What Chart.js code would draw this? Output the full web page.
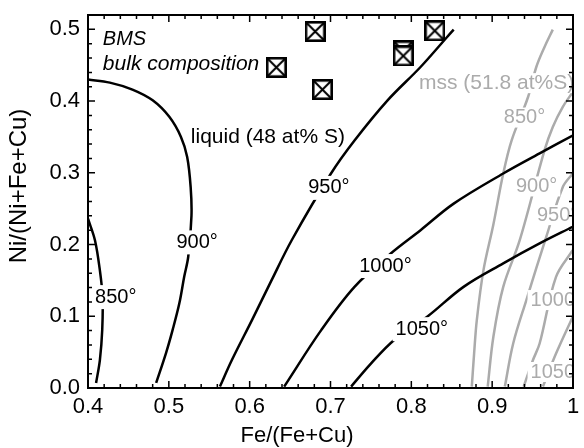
<!DOCTYPE html>
<html>
<head>
<meta charset="utf-8">
<script src="https://cdn.jsdelivr.net/npm/chart.js@4.4.1/dist/chart.umd.min.js"></script>
<style>
  html, body { margin: 0; padding: 0; background: #fff; }
</style>
</head>
<body>
<canvas id="chart" width="584" height="448"></canvas>
<script>
// tick labels
var xTicks = [0.4, 0.5, 0.6, 0.7, 0.8, 0.9, 1.0];
var xTickLabels = ['0.4', '0.5', '0.6', '0.7', '0.8', '0.9', '1'];
var yTicks = [0.0, 0.1, 0.2, 0.3, 0.4, 0.5];
var yTickLabels = ['0.0', '0.1', '0.2', '0.3', '0.4', '0.5'];

// liquid isotherms (48 at% S): [Fe/(Fe+Cu), Ni/(Ni+Fe+Cu)]
var liq850 = [[0.400, 0.236], [0.4086, 0.206], [0.4147, 0.164], [0.418, 0.127], [0.4176, 0.081], [0.4147, 0.039], [0.410, 0.007]];
var liq900 = [[0.400, 0.430], [0.427, 0.4257], [0.455, 0.416], [0.480, 0.401], [0.5006, 0.378], [0.515, 0.350], [0.5227, 0.322],
              [0.527, 0.280], [0.528, 0.240], [0.524, 0.183], [0.519, 0.155], [0.513, 0.118], [0.5047, 0.081], [0.4966, 0.049], [0.4843, 0.007]];
var liq950 = [[0.5632, 0.002], [0.578, 0.039], [0.603, 0.095], [0.627, 0.150], [0.652, 0.206], [0.7006, 0.299], [0.7297, 0.345],
              [0.7706, 0.401], [0.8114, 0.4475], [0.844, 0.489], [0.8524, 0.4996]];
var liq1000 = [[0.6427, 0.002], [0.6887, 0.081], [0.7297, 0.141], [0.7746, 0.1876], [0.8114, 0.220], [0.8524, 0.257],
               [0.9137, 0.299], [0.9587, 0.327], [0.9996, 0.352]];
var liq1050 = [[0.7255, 0.002], [0.750, 0.034], [0.7788, 0.067], [0.8196, 0.0993], [0.8646, 0.141], [0.9137, 0.1737],
               [0.9587, 0.2015], [0.9996, 0.2247]];

// mss isotherms (51.8 at% S)
var mss850 = [[0.8748, 0.002], [0.8777, 0.0487], [0.881, 0.0947], [0.8892, 0.164], [0.9015, 0.228], [0.9137, 0.299],
              [0.924, 0.345], [0.9444, 0.4057], [0.9546, 0.4475], [0.9648, 0.4754], [0.975, 0.4996]];
var mss900 = [[0.8945, 0.002], [0.9015, 0.0715], [0.9137, 0.141], [0.9341, 0.206], [0.9648, 0.3315], [0.975, 0.364],
              [0.9874, 0.392], [1.0, 0.413]];
var mss950 = [[0.9157, 0.002], [0.926, 0.062], [0.9423, 0.1226], [0.9669, 0.2107], [0.9873, 0.280], [0.9996, 0.299]];
var mss1000 = [[0.939, 0.002], [0.9505, 0.039], [0.9587, 0.062], [0.979, 0.155], [0.9996, 0.192]];
var mss1050 = [[0.9628, 0.002], [0.979, 0.048], [0.9996, 0.099]];

// BMS bulk compositions
var bmsFe = [0.633, 0.681, 0.690, 0.790, 0.790, 0.829];
var bmsNi = [0.447, 0.497, 0.416, 0.470, 0.463, 0.498];

// labels, anchored in data units
var notes = [
  { text: 'BMS', x: 0.4184, y: 0.4854, size: 20, align: 'left', italic: true },
  { text: 'bulk composition', x: 0.4184, y: 0.4516, size: 21, align: 'left', italic: true },
  { text: 'liquid (48 at% S)', x: 0.5272, y: 0.350, size: 21, align: 'left' },
  { text: '850°', x: 0.4344, y: 0.1267, bg: true },
  { text: '900°', x: 0.535, y: 0.203, bg: true },
  { text: '950°', x: 0.698, y: 0.279, bg: true },
  { text: '1000°', x: 0.768, y: 0.170, bg: true },
  { text: '1050°', x: 0.813, y: 0.082, bg: true },
  { text: 'mss (51.8 at%S)', x: 0.9055, y: 0.425, size: 21, bg: true, grey: true },
  { text: '850°', x: 0.940, y: 0.377, bg: true, grey: true },
  { text: '900°', x: 0.955, y: 0.281, bg: true, grey: true },
  { text: '950°', x: 0.981, y: 0.241, bg: true, grey: true },
  { text: '1000°', x: 0.980, y: 0.1226, bg: true, grey: true },
  { text: '1050°', x: 0.980, y: 0.0223, bg: true, grey: true }
];

var FONT = '"Liberation Sans", Arial, Helvetica, sans-serif';
var GREY = '#ababab';

function pts(arr) {
  return arr.map(function (p) { return { x: p[0], y: p[1] }; });
}

function isoLine(arr, color) {
  return {
    data: pts(arr),
    showLine: true,
    borderColor: color,
    borderWidth: 2.5,
    pointRadius: 0,
    tension: 0.35,
    fill: false
  };
}

// square with a cross, white inside
function boxCross(size) {
  var c = document.createElement('canvas');
  c.width = size;
  c.height = size;
  var g = c.getContext('2d');
  g.fillStyle = '#fff';
  g.fillRect(0, 0, size, size);
  g.strokeStyle = '#000';
  g.lineWidth = 2.6;
  g.strokeRect(1.3, 1.3, size - 2.6, size - 2.6);
  g.lineWidth = 2;
  g.beginPath();
  g.moveTo(2, 2); g.lineTo(size - 2, size - 2);
  g.moveTo(size - 2, 2); g.lineTo(2, size - 2);
  g.stroke();
  return c;
}

function isMajor(v) {
  return Math.abs(v * 10 - Math.round(v * 10)) < 1e-6;
}

function tickText(v, vals, labels) {
  if (!isMajor(v)) return '';
  for (var i = 0; i < vals.length; i++) {
    if (Math.abs(vals[i] - v) < 1e-6) return labels[i];
  }
  return '';
}

var notesPlugin = {
  id: 'notes',
  afterDatasetsDraw: function (chart) {
    var ctx = chart.ctx, a = chart.chartArea;
    var xs = chart.scales.x, ys = chart.scales.y;
    ctx.save();
    ctx.beginPath();
    ctx.rect(a.left, a.top, a.right - a.left, a.bottom - a.top);
    ctx.clip();
    notes.forEach(function (n) {
      ctx.font = (n.italic ? 'italic ' : '') + (n.size || 20) + 'px ' + FONT;
      ctx.textAlign = n.align || 'center';
      ctx.textBaseline = 'middle';
      var px = xs.getPixelForValue(n.x), py = ys.getPixelForValue(n.y);
      var w = ctx.measureText(n.text).width;
      if (n.bg) {
        var left = ctx.textAlign === 'left' ? px : px - w / 2;
        ctx.fillStyle = '#fff';
        ctx.fillRect(left - 3, py - (n.grey ? 10 : 12), w + 6, n.grey ? 20 : 24);
      }
      ctx.fillStyle = n.grey ? GREY : '#000';
      ctx.fillText(n.text, px, py);
    });
    ctx.restore();
  }
};

var framePlugin = {
  id: 'frame',
  afterDraw: function (chart) {
    var ctx = chart.ctx, a = chart.chartArea;
    var xs = chart.scales.x, ys = chart.scales.y;
    ctx.save();
    ctx.strokeStyle = '#000';
    ctx.lineWidth = 1.5;
    ctx.beginPath();
    xs.ticks.forEach(function (t) {
      var px = xs.getPixelForValue(t.value);
      var len = isMajor(t.value) ? 7 : 4;
      ctx.moveTo(px, a.bottom); ctx.lineTo(px, a.bottom - len);
      ctx.moveTo(px, a.top); ctx.lineTo(px, a.top + len);
    });
    ys.ticks.forEach(function (t) {
      var py = ys.getPixelForValue(t.value);
      var len = isMajor(t.value) ? 7 : 4;
      ctx.moveTo(a.left, py); ctx.lineTo(a.left + len, py);
      ctx.moveTo(a.right, py); ctx.lineTo(a.right - len, py);
    });
    ctx.stroke();
    ctx.lineWidth = 2;
    ctx.strokeRect(a.left, a.top, a.right - a.left, a.bottom - a.top);

    // axis titles
    ctx.fillStyle = '#000';
    ctx.textAlign = 'center';
    ctx.textBaseline = 'middle';
    ctx.font = '22px ' + FONT;
    ctx.fillText('Fe/(Fe+Cu)', 297, 436);
    ctx.translate(19, 186);
    ctx.rotate(-Math.PI / 2);
    ctx.font = '24px ' + FONT;
    ctx.fillText('Ni/(Ni+Fe+Cu)', 0, 0);
    ctx.restore();
  }
};

var datasets = [
  isoLine(liq850, '#000'),
  isoLine(liq900, '#000'),
  isoLine(liq950, '#000'),
  isoLine(liq1000, '#000'),
  isoLine(liq1050, '#000'),
  isoLine(mss850, GREY),
  isoLine(mss900, GREY),
  isoLine(mss950, GREY),
  isoLine(mss1000, GREY),
  isoLine(mss1050, GREY),
  {
    data: bmsFe.map(function (x, i) { return { x: x, y: bmsNi[i] }; }),
    showLine: false,
    pointStyle: boxCross(21),
    pointRadius: 10,
    clip: false
  }
];

new Chart(document.getElementById('chart'), {
  type: 'scatter',
  data: { datasets: datasets },
  options: {
    responsive: false,
    animation: false,
    events: [],
    layout: { padding: { top: 15, right: 7, left: 0, bottom: 0 } },
    plugins: { legend: { display: false }, tooltip: { enabled: false } },
    scales: {
      x: {
        type: 'linear',
        min: 0.4,
        max: 1.0,
        grid: { display: false, drawTicks: false },
        border: { display: false },
        ticks: {
          stepSize: 0.02,
          autoSkip: false,
          maxRotation: 0,
          padding: 6,
          color: '#000',
          font: { family: FONT, size: 22 },
          callback: function (v) { return tickText(v, xTicks, xTickLabels); }
        },
        afterFit: function (s) { s.height = 60; s.paddingLeft = 0; s.paddingRight = 0; }
      },
      y: {
        type: 'linear',
        min: 0,
        max: 0.52,
        grid: { display: false, drawTicks: false },
        border: { display: false },
        ticks: {
          stepSize: 0.02,
          autoSkip: false,
          padding: 8,
          color: '#000',
          font: { family: FONT, size: 22 },
          callback: function (v) { return tickText(v, yTicks, yTickLabels); }
        },
        afterFit: function (s) { s.width = 88; s.paddingTop = 0; s.paddingBottom = 0; }
      }
    }
  },
  plugins: [notesPlugin, framePlugin]
});
</script>
</body>
</html>
